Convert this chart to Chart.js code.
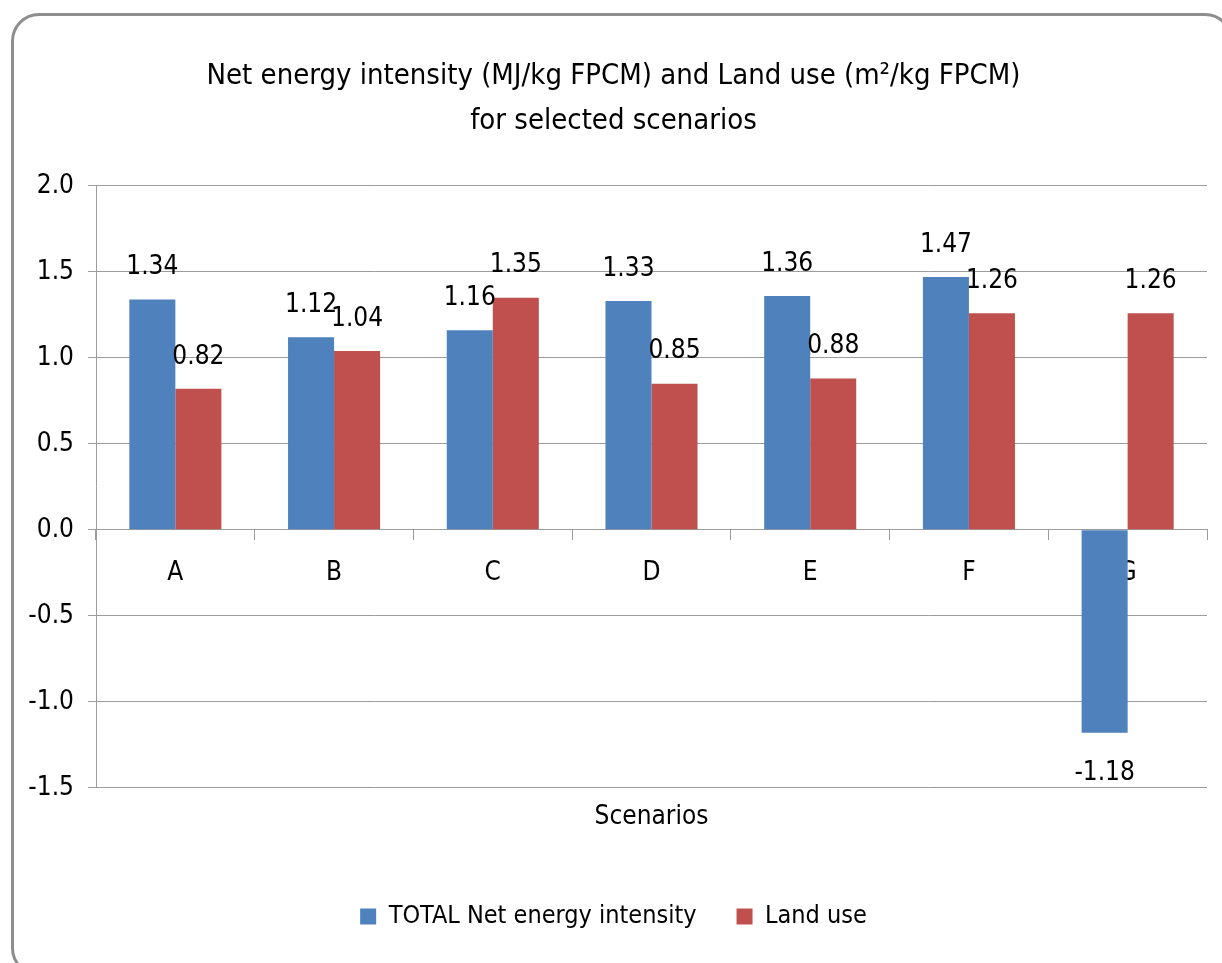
<!DOCTYPE html>
<html>
<head>
<meta charset="utf-8">
<script src="https://cdn.jsdelivr.net/npm/chart.js@4.4.1/dist/chart.umd.min.js"></script>
<style>
  html, body { margin: 0; padding: 0; background: #fff; overflow: hidden; }
  #wrap { position: relative; width: 1222px; height: 963px; }
  #frame {
    position: absolute; left: 11px; top: 13px;
    width: 1222px; height: 963px;
    border: 3px solid #8e8e8e; border-radius: 28px;
    box-sizing: border-box; pointer-events: none;
  }
  canvas { position: absolute; left: 0; top: 0; }
</style>
</head>
<body>
<div id="wrap">
  <canvas id="chart" width="1222" height="963"></canvas>
  <div id="frame"></div>
</div>
<script>
const FONT = "'DejaVu Sans Condensed', 'Liberation Sans Narrow', sans-serif";

const scenarios = ['A', 'B', 'C', 'D', 'E', 'F', 'G'];
const netEnergy = [1.34, 1.12, 1.16, 1.33, 1.36, 1.47, -1.18];
const landUse = [0.82, 1.04, 1.35, 0.85, 0.88, 1.26, 1.26];
const yTicks = [-1.5, -1.0, -0.5, 0.0, 0.5, 1.0, 1.5, 2.0];

// value labels above/below each bar, Excel style
const barLabels = {
    id: 'barLabels',
    afterDatasetsDraw(chart) {
        const ctx = chart.ctx;
        ctx.save();
        ctx.font = '26px ' + FONT;
        ctx.fillStyle = '#000';
        ctx.textAlign = 'center';
        ctx.textBaseline = 'middle';
        chart.data.datasets.forEach((ds, i) => {
            chart.getDatasetMeta(i).data.forEach((bar, j) => {
                const v = ds.data[j];
                const y = v >= 0 ? bar.y - 32 : bar.y + 40;
                ctx.fillText(v.toFixed(2), bar.x, y);
            });
        });
        ctx.restore();
    }
};

new Chart(document.getElementById('chart'), {
    type: 'bar',
    data: {
        labels: scenarios,
        datasets: [{
            label: 'TOTAL Net energy intensity',
            data: netEnergy,
            backgroundColor: '#4f81bd',
            borderWidth: 0
        }, {
            label: 'Land use',
            data: landUse,
            backgroundColor: '#c0504d',
            borderWidth: 0
        }]
    },
    options: {
        responsive: false,
        animation: false,
        layout: { padding: { left: 20, right: 15, top: 20, bottom: 24 } },
        datasets: { bar: { categoryPercentage: 0.58, barPercentage: 1.0 } },
        scales: {
            x: {
                position: { y: 0 },
                grid: { display: true, drawOnChartArea: false, drawTicks: true, tickLength: 10, color: '#9c9c9c', offset: true },
                border: { color: '#9c9c9c', width: 1 },
                ticks: { color: '#000', font: { family: FONT, size: 26 }, padding: 18 }
            },
            y: {
                min: -1.5,
                max: 2.0,
                afterBuildTicks: s => { s.ticks = yTicks.map(v => ({ value: v })); },
                afterFit: s => { s.width = 76; },
                grid: { color: '#9c9c9c', tickLength: 8 },
                border: { color: '#9c9c9c', width: 1 },
                ticks: {
                    color: '#000',
                    font: { family: FONT, size: 26 },
                    padding: 14,
                    callback: v => Number(v).toFixed(1)
                }
            }
        },
        plugins: {
            title: {
                display: true,
                text: ['Net energy intensity (MJ/kg FPCM) and Land use (m\u00b2/kg FPCM)', 'for selected scenarios'],
                color: '#000',
                font: { family: FONT, size: 29, weight: 'normal', lineHeight: 1.55 },
                padding: { top: 34, bottom: 42 }
            },
            subtitle: {
                display: true,
                text: 'Scenarios',
                position: 'bottom',
                fullSize: false,
                weight: 500,
                color: '#000',
                font: { family: FONT, size: 26, lineHeight: 1.2 },
                padding: { top: 14, bottom: 31 }
            },
            legend: {
                position: 'bottom',
                labels: {
                    color: '#000',
                    font: { family: FONT, size: 25 },
                    boxWidth: 16,
                    boxHeight: 16,
                    padding: 40
                }
            },
            tooltip: { enabled: false }
        }
    },
    plugins: [barLabels]
});
</script>
</body>
</html>
